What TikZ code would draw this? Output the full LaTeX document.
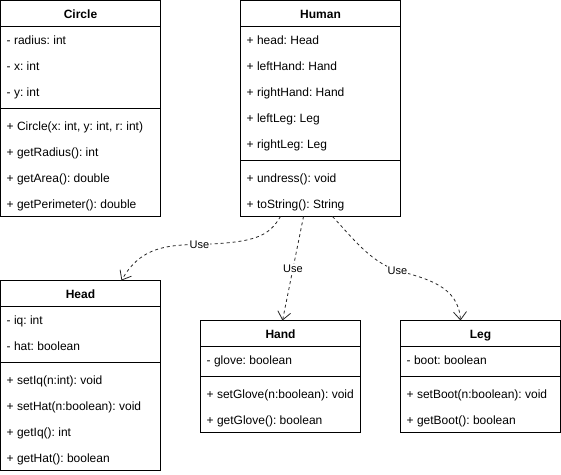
\documentclass[tikz,border=0pt]{standalone}
\usepackage{fontspec}
\setmainfont{Liberation Sans}
\usetikzlibrary{arrows.meta}
\frenchspacing

% #1 name, #2 left x, #3 top y, #4 height, #5 number of fields,
% #6 title, #7 fields, #8 methods
\newcommand\drawumlclass[8]{%
  \node[classbox, minimum height=#4pt] (#1) at (#2,#3) {};
  \node[classtitle] (#1-title) at ({#2+80},{#3+18}) {#6};
  \draw[rule] ([yshift=-26pt]#1.north west) -- ([yshift=-26pt]#1.north east);
  \draw[rule] ([yshift={-(30+26*#5)*1pt}]#1.north west) -- ([yshift={-(30+26*#5)*1pt}]#1.north east);
  \foreach \t [count=\i] in {#7}
    \node[member] (#1-f\i) at ({#2+6},{#3+26*\i+18}) {\t};
  \foreach \t [count=\i] in {#8}
    \node[member] (#1-m\i) at ({#2+6},{#3+26*#5+26+26*\i}) {\t};
}

\begin{document}
\begin{tikzpicture}[x=1pt,y=-1pt,
  classbox/.style={draw, line width=1pt, anchor=north west, minimum width=160pt,
    inner sep=0pt, outer sep=0pt},
  classtitle/.style={font=\fontsize{12}{14}\selectfont\bfseries\frenchspacing, anchor=base, inner sep=0pt},
  member/.style={font=\fontsize{12}{14}\selectfont\frenchspacing, anchor=base west, inner sep=0pt},
  rule/.style={line width=1pt},
  uses/.style={line width=0.8pt, black!85, dash pattern=on 3pt off 3pt,
    -{Straight Barb[length=8pt,width=13pt]}},
  uselabel/.style={fill=white, text=black, font=\fontsize{11}{13}\selectfont, inner sep=1pt}
]
\fill[white] (-0.5,-0.5) rectangle (560.5,473.5);
\useasboundingbox (-0.5,-0.5) rectangle (560.5,473.5);

\drawumlclass{circle}{0}{0}{216}{3}{Circle}
  {{- radius: int},{- x: int},{- y: int}}
  {{+ Circle(x: int, y: int, r: int)},{+ getRadius(): int},{+ getArea(): double},{+ getPerimeter(): double}}

\drawumlclass{human}{240}{0}{216}{5}{Human}
  {{+ head: Head},{+ leftHand: Hand},{+ rightHand: Hand},{+ leftLeg: Leg},{+ rightLeg: Leg}}
  {{+ undress(): void},{+ toString(): String}}

\drawumlclass{head}{0}{280}{190}{2}{Head}
  {{- iq: int},{- hat: boolean}}
  {{+ setIq(n:int): void},{+ setHat(n:boolean): void},{+ getIq(): int},{+ getHat(): boolean}}

\drawumlclass{hand}{200}{320}{112}{1}{Hand}
  {{- glove: boolean}}
  {{+ setGlove(n:boolean): void},{+ getGlove(): boolean}}

\drawumlclass{leg}{400}{320}{112}{1}{Leg}
  {{- boot: boolean}}
  {{+ setBoot(n:boolean): void},{+ getBoot(): boolean}}

% dependencies of Human
\draw[uses] ([xshift=40pt]human.south west)
  .. controls (268,236) and (255,242) .. (199,244) node[uselabel] {Use}
  .. controls (160,244) and (138,250) .. ([xshift=121pt]head.north west);
\draw[uses] ([xshift=63pt]human.south west) -- node[uselabel] {Use} ([xshift=82pt]hand.north west);
\draw[uses] ([xshift=92pt]human.south west)
  .. controls (350,235) and (370,262) .. (397,270) node[uselabel] {Use}
  .. controls (425,278) and (458,285) .. ([xshift=60pt]leg.north west);
\end{tikzpicture}
\end{document}
